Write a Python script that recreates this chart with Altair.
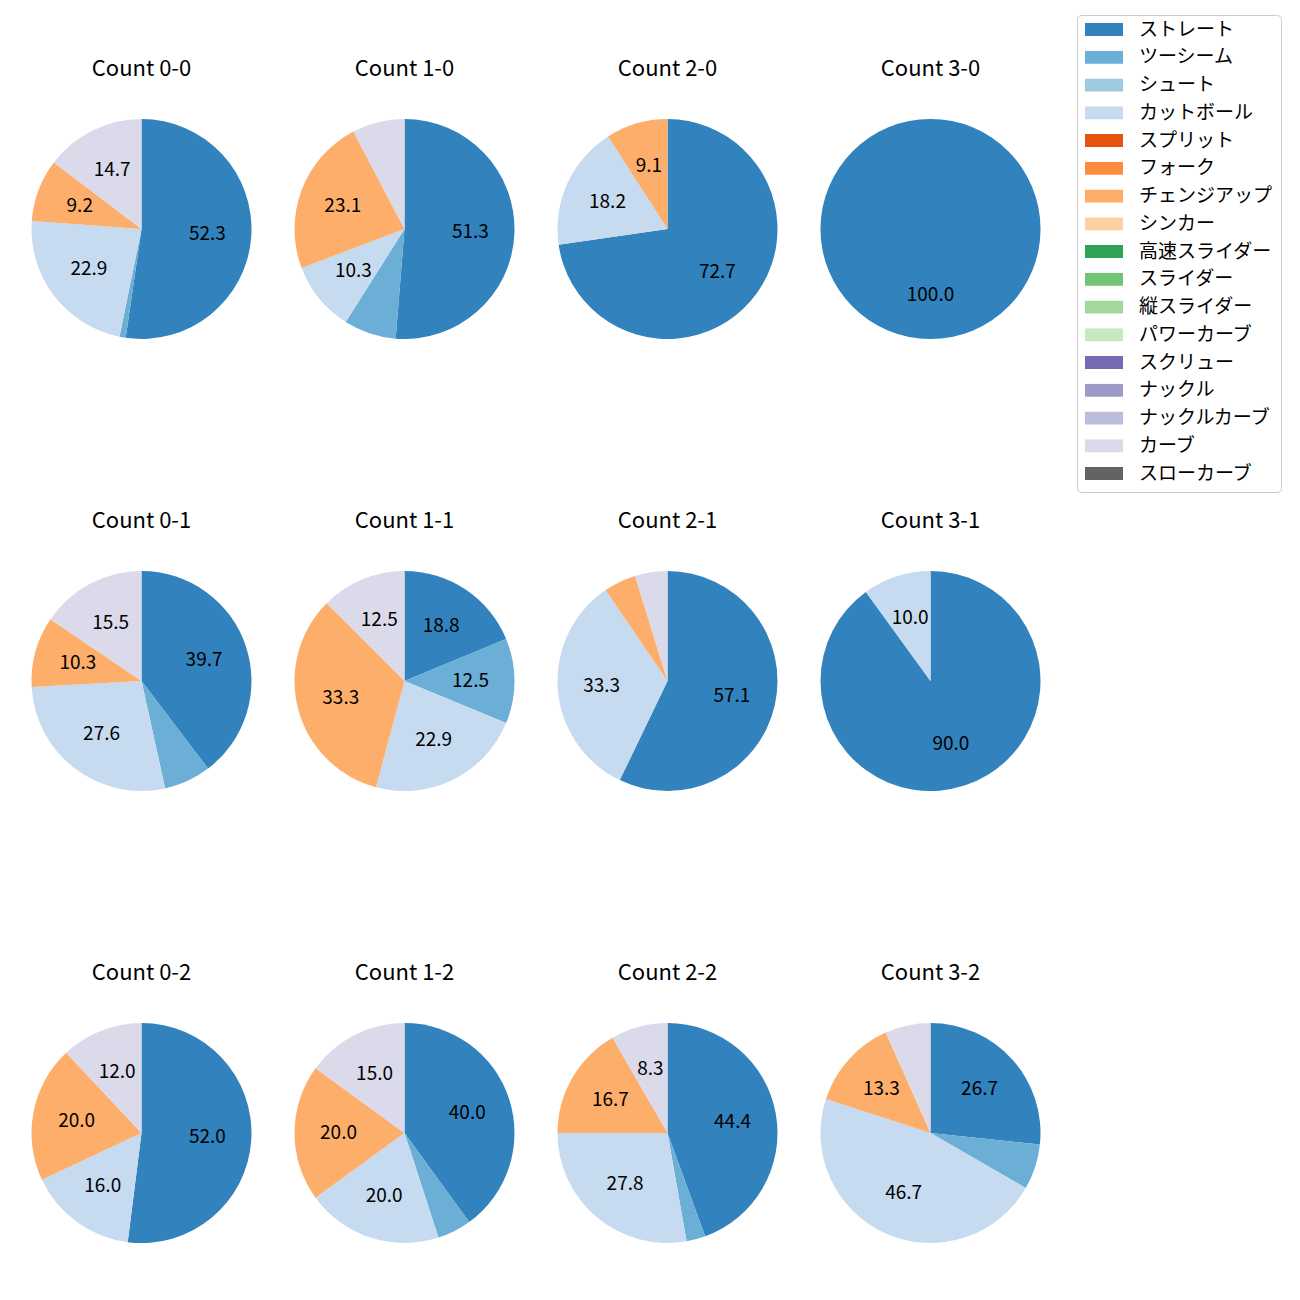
import altair as alt
import pandas as pd

counts = ["0-0", "1-0", "2-0", "3-0", "0-1", "1-1", "2-1", "3-1", "0-2", "1-2", "2-2", "3-2"]
pitch_types = ["ストレート", "ツーシーム", "シュート", "カットボール", "スプリット", "フォーク",
               "チェンジアップ", "シンカー", "高速スライダー", "スライダー", "縦スライダー",
               "パワーカーブ", "スクリュー", "ナックル", "ナックルカーブ", "カーブ", "スローカーブ"]
colors = ["#3182bd", "#6baed6", "#9ecae1", "#c6dbef", "#e6550d", "#fd8d3c", "#fdae6b",
          "#fdd0a2", "#31a354", "#74c476", "#a1d99b", "#c7e9c0", "#756bb1", "#9e9ac8",
          "#bcbddc", "#dadaeb", "#636363"]

# pitches thrown per count (same order as counts)
straight = [57, 20, 8, 2, 23, 9, 12, 9, 13, 8, 16, 4]
twoseam = [1, 3, 0, 0, 4, 6, 0, 0, 0, 1, 1, 1]
cutter = [25, 4, 2, 0, 16, 11, 7, 1, 4, 4, 10, 7]
changeup = [10, 9, 1, 0, 6, 16, 1, 0, 5, 4, 6, 2]
curve = [16, 3, 0, 0, 9, 6, 1, 0, 3, 3, 3, 1]

series = {"ストレート": straight, "ツーシーム": twoseam, "カットボール": cutter,
          "チェンジアップ": changeup, "カーブ": curve}

rows = []
for i, c in enumerate(counts):
    for t, vals in series.items():
        if vals[i] > 0:
            rows.append({"cnt": c, "type": t, "n": vals[i], "idx": pitch_types.index(t)})
df = pd.DataFrame(rows)

FONT = "Noto Sans CJK JP"
W, H = 263, 442

color = alt.Color(
    "type:N",
    scale=alt.Scale(domain=pitch_types, range=colors),
    legend=alt.Legend(
        title=None, orient="none", legendX=1067, legendY=7,
        symbolType="M-1,-0.342H1V0.342H-1Z", symbolSize=1444, symbolStrokeWidth=0,
        clipHeight=13, rowPadding=7.75, labelFontSize=19, labelOffset=16,
        padding=8, strokeColor="#cccccc", cornerRadius=4, fillColor="white",
        labelFont=FONT, labelColor="black", symbolOpacity=1, labelLimit=300,
    ),
)


def panel(c):
    base = (
        alt.Chart(df)
        .transform_filter(alt.datum.cnt == c)
        .transform_joinaggregate(total="sum(n)")
        .transform_calculate(
            label="datum.n / datum.total * 100 >= 8 ? format(datum.n / datum.total * 100, '.1f') : ''",
        )
    )
    theta = alt.Theta("n:Q", stack="normalize")
    arcs = base.mark_arc(outerRadius=110).encode(
        theta=theta, color=color, order=alt.Order("idx:Q")
    )
    labels = base.mark_text(radius=66, fontSize=19, font=FONT, color="black").encode(
        theta=theta, text="label:N", order=alt.Order("idx:Q")
    )
    title = (
        alt.Chart(pd.DataFrame({"t": ["Count " + c]}))
        .mark_text(fontSize=22, font=FONT, color="black")
        .encode(text="t:N", y=alt.value(61))
    )
    return alt.layer(arcs, labels, title).properties(width=W, height=H)


grid = [alt.hconcat(*[panel(c) for c in counts[r * 4:(r + 1) * 4]], spacing=0) for r in range(3)]

chart = (
    alt.vconcat(*grid, spacing=10)
    .properties(padding={"left": 2, "top": 0, "right": 5, "bottom": 5}, background="white")
    .configure(font=FONT)
    .configure_view(stroke="transparent", strokeWidth=0)
)

chart.save("out.html", embed_options={"renderer": "svg", "actions": False})
